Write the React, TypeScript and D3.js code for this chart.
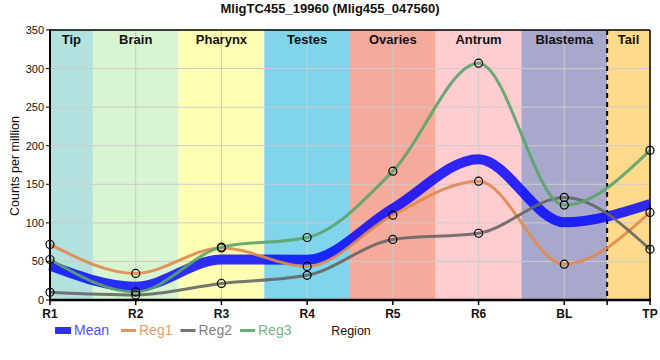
import React from "react";
import * as d3 from "d3";

const title = "MligTC455_19960 (Mlig455_047560)";
const categories = ["R1", "R2", "R3", "R4", "R5", "R6", "BL", "TP"];
const regionNames = ["Tip", "Brain", "Pharynx", "Testes", "Ovaries", "Antrum", "Blastema", "Tail"];
const regionColors = ["#b3e1de", "#d6f5d0", "#ffffb4", "#80d4ec", "#f5aa9c", "#ffccd0", "#a8a8cc", "#ffda8c"];
const meanValues = [44.8, 17.2, 52.5, 52.2, 118.5, 182.5, 100.8, 124.4];
const reg1Values = [72, 34.5, 67.5, 43.5, 110, 154, 46.5, 113.5];
const reg2Values = [10, 6.5, 21.5, 32, 78.5, 86.5, 133, 65.7];
const reg3Values = [52.5, 10.5, 68.5, 81, 167, 307, 123, 194];
const yTicks = [0, 50, 100, 150, 200, 250, 300, 350];
const seriesNames = ["Reg1", "Reg2", "Reg3"];
const seriesColors = ["#e0894e", "#666666", "#5aa469"];

const W = 660, H = 360;
const L = 50, R = 650, T = 30, B = 300;
const FONT = "'Liberation Sans', Arial, sans-serif";

export default function App() {
  const x = d3.scalePoint<string>().domain(categories).range([L, R]);
  const step = x.step();
  const y = d3.scaleLinear().domain([0, 350]).range([B, T]);
  const line = d3
    .line<number>()
    .x((_, i) => x(categories[i]) as number)
    .y((d) => y(d))
    .curve(d3.curveMonotoneX);
  const regs = [reg1Values, reg2Values, reg3Values];
  const dashX = (x("BL") as number) + step / 2;

  return (
    <svg width={W} height={H} style={{ position: "absolute", left: 0, top: 0, fontFamily: FONT }}>
      <rect width={W} height={H} fill="#fff" />
      {regionNames.map((name, i) => {
        const cx = x(categories[i]) as number;
        const x0 = Math.max(L, cx - step / 2);
        const x1 = Math.min(R, cx + step / 2);
        return <rect key={name} x={x0} y={T} width={x1 - x0} height={B - T} fill={regionColors[i]} />;
      })}
      {yTicks.slice(1, -1).map((t) => (
        <line key={t} x1={L} x2={R} y1={y(t)} y2={y(t)} stroke="#cccccc" strokeWidth={1} />
      ))}
      {categories.map((c) => (
        <line key={c} x1={x(c)} x2={x(c)} y1={T} y2={B} stroke="#cccccc" strokeWidth={1} />
      ))}
      {regionNames.map((name, i) => {
        const cx = x(categories[i]) as number;
        const x0 = Math.max(L, cx - step / 2);
        const x1 = Math.min(R, cx + step / 2);
        return (
          <text key={name} x={(x0 + x1) / 2} y={44} textAnchor="middle" fontWeight="bold" fontSize={13} fill="#111">
            {name}
          </text>
        );
      })}
      <line x1={dashX} x2={dashX} y1={T} y2={B} stroke="#000" strokeWidth={2} strokeDasharray="5,4" />
      <path d={line(meanValues) || ""} fill="none" stroke="#0000ff" strokeOpacity={0.82} strokeWidth={10} />
      {regs.map((vals, k) => (
        <path key={k} d={line(vals) || ""} fill="none" stroke={seriesColors[k]} strokeOpacity={0.9} strokeWidth={3} />
      ))}
      {regs.map((vals, k) =>
        vals.map((v, i) => (
          <circle key={k + "-" + i} cx={x(categories[i])} cy={y(v)} r={4} fill="none" stroke="#000" strokeWidth={1.2} />
        ))
      )}
      {/* frame */}
      <line x1={L} x2={R} y1={T} y2={T} stroke="#000" strokeWidth={1.5} />
      <line x1={R} x2={R} y1={T} y2={B} stroke="#000" strokeWidth={1.5} />
      <line x1={L} x2={L} y1={T - 1} y2={B + 1} stroke="#000" strokeWidth={2} />
      <line x1={L - 1} x2={R + 1} y1={B} y2={B} stroke="#000" strokeWidth={2.5} />
      {yTicks.map((t) => (
        <g key={t}>
          <line x1={L - 4} x2={L} y1={y(t)} y2={y(t)} stroke="#000" strokeWidth={1} />
          <text x={44} y={y(t) + 4} textAnchor="end" fontSize={11} fill="#111">
            {t}
          </text>
        </g>
      ))}
      {categories.map((c) => (
        <g key={c}>
          <line x1={x(c)} x2={x(c)} y1={B} y2={B + 5} stroke="#000" strokeWidth={1.5} />
          <text x={x(c)} y={318} textAnchor="middle" fontWeight="bold" fontSize={12} fill="#111">
            {c}
          </text>
        </g>
      ))}
      <line x1={dashX} x2={dashX} y1={B} y2={B + 5} stroke="#000" strokeWidth={1.5} />
      <text x={330} y={13} textAnchor="middle" fontWeight="bold" fontSize={13} fill="#111">
        {title}
      </text>
      <text transform={`translate(19,166) rotate(-90)`} textAnchor="middle" fontSize={12.5} fill="#111">
        Counts per million
      </text>
      {/* legend */}
      <rect x={55} y={327} width={16} height={7} fill="#0000ff" fillOpacity={0.82} />
      <text x={74} y={335} fontSize={14} fill="#5050ff">Mean</text>
      {seriesNames.map((n, k) => {
        const lx = 121 + k * 59.5;
        return (
          <g key={n}>
            <line x1={lx} x2={lx + 15} y1={330.5} y2={330.5} stroke={seriesColors[k]} strokeWidth={3} strokeOpacity={0.9} />
            <text x={lx + 18} y={335} fontSize={14} fill={seriesColors[k]} fillOpacity={0.85}>
              {n}
            </text>
          </g>
        );
      })}
      <text x={351} y={335} textAnchor="middle" fontSize={12.5} fill="#111">Region</text>
    </svg>
  );
}
